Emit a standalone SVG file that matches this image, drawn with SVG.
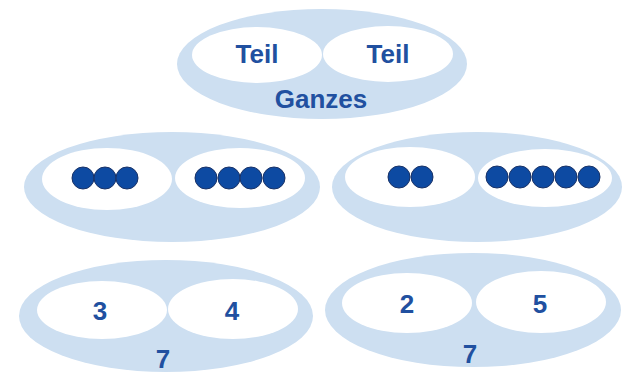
<svg xmlns="http://www.w3.org/2000/svg" width="622" height="373" viewBox="0 0 622 373">
<style>
.outer{fill:#cddff1}
.inner{fill:#ffffff}
.t{font-family:"Liberation Sans",Arial,sans-serif;font-weight:bold;font-size:26px;fill:#2150a0;text-anchor:middle}
.dot{fill:#0d4aa2;stroke:#1a3266;stroke-width:1}
</style>
<rect width="622" height="373" fill="#ffffff"/>
<g id="connectors"></g>
<g id="top">
<ellipse class="outer" cx="322" cy="64" rx="145" ry="55"/>
<ellipse class="inner" cx="257" cy="55" rx="65" ry="28"/>
<ellipse class="inner" cx="388" cy="54" rx="65" ry="28"/>
<text class="t" x="257" y="63">Teil</text>
<text class="t" x="388" y="63">Teil</text>
<text class="t" x="321" y="108">Ganzes</text>
</g>
<g id="dots-3-4">
<ellipse class="outer" cx="172" cy="187" rx="148" ry="55"/>
<ellipse class="inner" cx="107" cy="179" rx="65" ry="31"/>
<ellipse class="inner" cx="240" cy="178" rx="65" ry="30"/>
<circle class="dot" cx="83" cy="178" r="11"/>
<circle class="dot" cx="105" cy="178" r="11"/>
<circle class="dot" cx="127" cy="178" r="11"/>
<circle class="dot" cx="206" cy="178" r="11"/>
<circle class="dot" cx="229" cy="178" r="11"/>
<circle class="dot" cx="251" cy="178" r="11"/>
<circle class="dot" cx="274" cy="178" r="11"/>
</g>
<g id="dots-2-5">
<ellipse class="outer" cx="477" cy="187" rx="145" ry="55"/>
<ellipse class="inner" cx="410" cy="177" rx="65" ry="30"/>
<ellipse class="inner" cx="545" cy="178" rx="67" ry="29"/>
<circle class="dot" cx="399" cy="177" r="11"/>
<circle class="dot" cx="422" cy="177" r="11"/>
<circle class="dot" cx="497" cy="177" r="11"/>
<circle class="dot" cx="520" cy="177" r="11"/>
<circle class="dot" cx="543" cy="177" r="11"/>
<circle class="dot" cx="566" cy="177" r="11"/>
<circle class="dot" cx="589" cy="177" r="11"/>
</g>
<g id="num-3-4">
<ellipse class="outer" cx="166" cy="316" rx="147" ry="56"/>
<ellipse class="inner" cx="102" cy="310" rx="65" ry="29"/>
<ellipse class="inner" cx="233" cy="309" rx="65" ry="30"/>
<text class="t" x="100" y="320">3</text>
<text class="t" x="232" y="320">4</text>
<text class="t" x="163" y="368">7</text>
</g>
<g id="num-2-5">
<ellipse class="outer" cx="473" cy="310" rx="148" ry="57"/>
<ellipse class="inner" cx="407" cy="303" rx="65" ry="30"/>
<ellipse class="inner" cx="541" cy="302" rx="65" ry="31"/>
<text class="t" x="407" y="313">2</text>
<text class="t" x="540" y="313">5</text>
<text class="t" x="470" y="363">7</text>
</g>
</svg>
